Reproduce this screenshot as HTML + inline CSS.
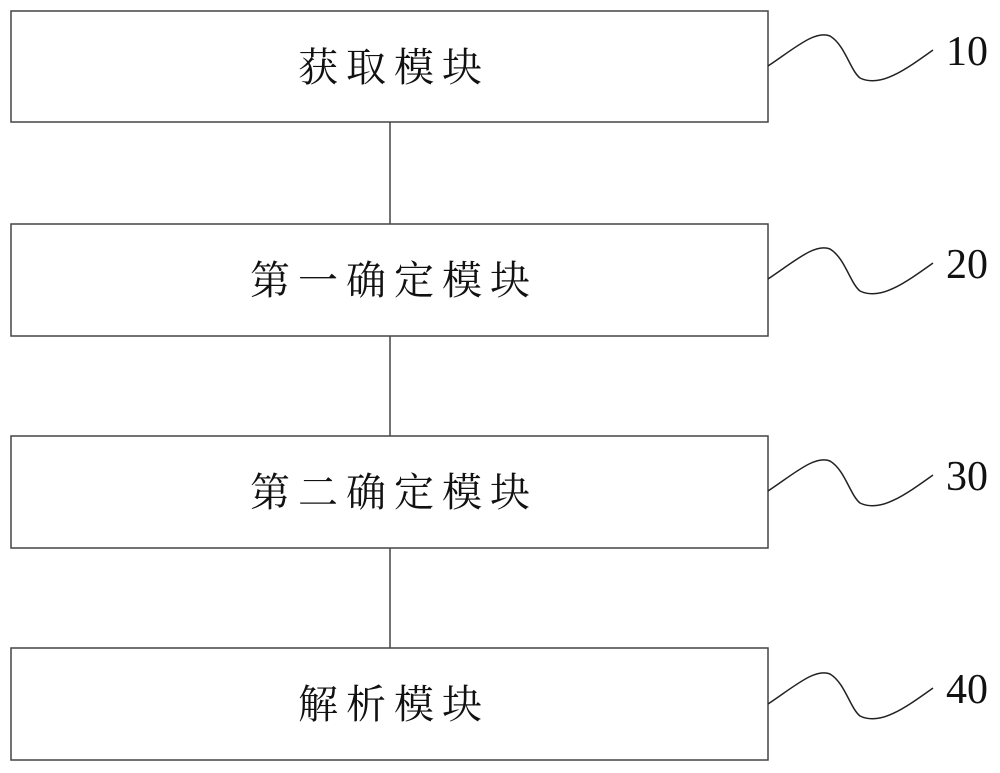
<!DOCTYPE html>
<html><head><meta charset="utf-8"><style>
body{margin:0;background:#fff;}
svg{display:block}
.t{font-family:"Liberation Serif","Noto Serif CJK SC","Noto Sans CJK SC",serif;font-size:40px;letter-spacing:8px;fill:#111;text-anchor:middle}
.n{font-family:"Liberation Serif",serif;font-size:42px;fill:#111}
</style></head><body>
<svg width="1000" height="773" viewBox="0 0 1000 773">
<g fill="none" stroke="#444" stroke-width="1.5">
<rect x="11" y="11" width="757" height="111"/>
<rect x="11" y="224" width="757" height="112"/>
<rect x="11" y="436" width="757" height="112"/>
<rect x="11" y="648" width="757" height="112"/>
<line x1="390" y1="122" x2="390" y2="224"/>
<line x1="390" y1="336" x2="390" y2="436"/>
<line x1="390" y1="548" x2="390" y2="648"/>
</g>
<g fill="none" stroke="#222" stroke-width="1.5">
<path id="s" d="M768,66 C795,48 815,30 830,36 C845,45 850,70 860,78 C880,88 905,70 933,50"/>
<use href="#s" y="213"/>
<use href="#s" y="425"/>
<use href="#s" y="638"/>
</g>
<text class="t" x="394" y="81">获取模块</text>
<text class="t" x="394" y="294">第一确定模块</text>
<text class="t" x="394" y="506">第二确定模块</text>
<text class="t" x="394" y="718">解析模块</text>
<text class="n" x="946" y="65">10</text>
<text class="n" x="946" y="278">20</text>
<text class="n" x="946" y="490">30</text>
<text class="n" x="946" y="703">40</text>
</svg>
</body></html>
